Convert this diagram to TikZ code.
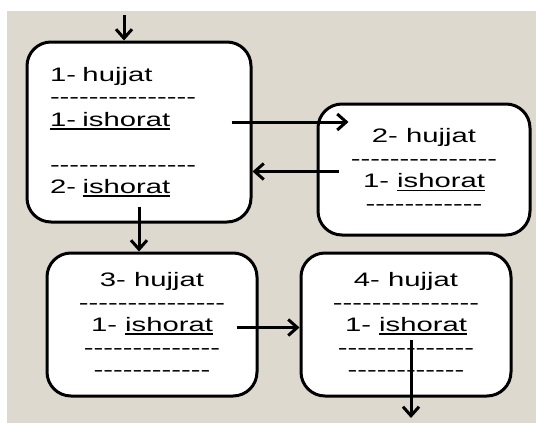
\documentclass[tikz,border=0pt]{standalone}
\usepackage{fontspec}
\setmainfont[FakeStretch=1.5]{Liberation Sans}
\usetikzlibrary{arrows.meta, positioning, calc}
\definecolor{beige}{RGB}{221,217,206}
\newcommand{\dashes}[1]{\foreach \k in {1,...,#1}{\mbox{-}}}
\newcommand{\ul}[1]{\leavevmode\setbox0\hbox{#1}\rlap{\rule[-3.5pt]{\wd0}{1.7pt}}\box0}

\begin{document}
\begin{tikzpicture}[
    x=1pt, y=-1pt,
    box/.style={rectangle, draw, line width=3pt, rounded corners=24pt, fill=white,
                minimum width=210pt, minimum height=143pt, align=center,
                font=\fontsize{19.5}{22.5}\selectfont},
    arr/.style={-{Straight Barb[length=9pt, width=16pt]}, line width=3pt}
]
\useasboundingbox (0,0) rectangle (536,423);
\fill[beige] (7,11) rectangle (536,423);

\node[box, align=left, text width=178pt, inner xsep=23pt, minimum height=180pt] (h1) at (139,132)
    {1- hujjat\\ \dashes{15}\\ \ul{1- ishorat}\\[22.5pt] \dashes{15}\\ 2- \ul{ishorat}};
\node[box, minimum width=212pt, minimum height=131pt] (h2) at (424,169.5)
    {2- hujjat\\ \dashes{15}\\ 1- \ul{ishorat}\\ \dashes{12}};
\node[box] (h3) at (152,324.5)
    {3- hujjat\\ \dashes{15}\\ 1- \ul{ishorat}\\ \dashes{14}\\ \dashes{12}};
\node[box, right=41pt of h3] (h4)
    {4- hujjat\\ \dashes{15}\\ 1- \ul{ishorat}\\ \dashes{14}\\ \dashes{12}};

\coordinate (in) at (124,15);
\coordinate (out) at (408,418);

\draw[arr] (in) -- (in |- h1.north);
\draw[arr] ($(h1.east)+(-21,-10)$) coordinate (s12) -- ($(s12 -| h2.west)+(32,0)$);
\draw[arr] ($(h2.west)+(22,2)$) coordinate (s21) -- (s21 -| h1.east);
\draw[arr] ($(h1.south)+(0,-17)$) coordinate (s13) -- (s13 |- h3.north);
\draw[arr] ($(h3.east)+(-22,3)$) coordinate (s34) -- (s34 -| h4.west);
\draw[arr] ($(h4.center)+(5,15)$) coordinate (s4) -- (s4 |- out);
\end{tikzpicture}
\end{document}
